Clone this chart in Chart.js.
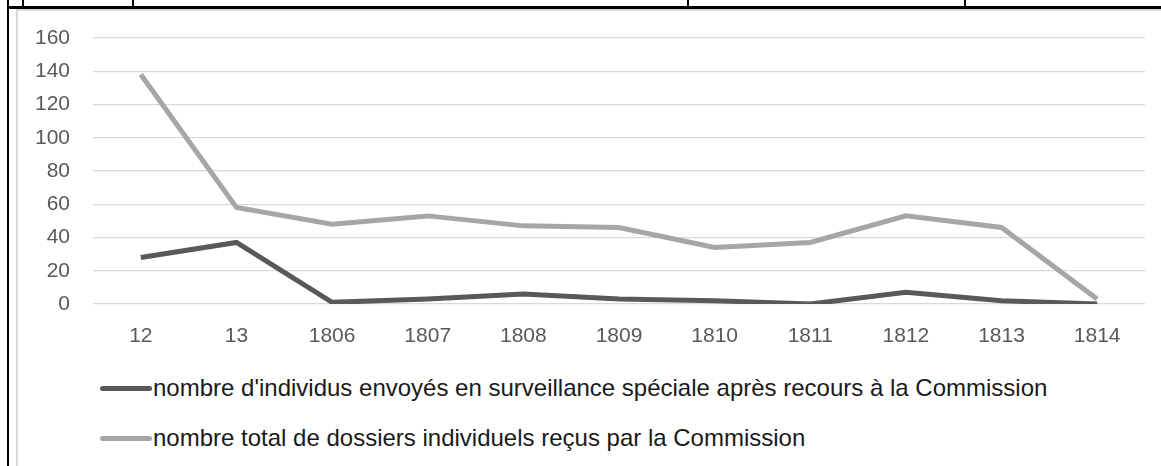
<!DOCTYPE html>
<html>
<head>
<meta charset="utf-8">
<script src="https://cdn.jsdelivr.net/npm/chart.js@4"></script>
<style>
  body { margin: 0; background: #fff; width: 1161px; height: 466px; overflow: hidden; position: relative; font-family: "Liberation Sans", Arial, sans-serif; }
  .rule { position: absolute; background: #000; }
  .frame { position: absolute; background: #d9d9d9; }
  #wrap { position: absolute; left: 0; top: 0; width: 1161px; height: 360px; }
  #legend { position: absolute; left: 100px; top: 372px; }
  .item { display: flex; align-items: center; height: 32px; margin-bottom: 18px; font-size: 24px; color: #1a1a1a; white-space: nowrap; }
  .swatch { width: 52px; height: 5px; border-radius: 3px; margin-right: 1px; }
</style>
</head>
<body>
<!-- table borders around the chart -->
<div class="rule" style="left:7px;top:0;width:2px;height:466px"></div>
<div class="rule" style="left:7px;top:6px;width:1154px;height:2.5px"></div>
<div class="rule" style="left:22px;top:0;width:1.5px;height:7px"></div>
<div class="rule" style="left:132px;top:0;width:1.5px;height:7px"></div>
<div class="rule" style="left:687px;top:0;width:1.5px;height:7px"></div>
<div class="rule" style="left:964px;top:0;width:1.5px;height:7px"></div>
<!-- chart frame -->
<div class="frame" style="left:16px;top:9px;width:1.5px;height:457px"></div>
<div class="frame" style="left:16px;top:9px;width:1145px;height:1.5px"></div>

<div id="wrap"><canvas id="chart"></canvas></div>
<div id="legend"></div>

<script>
// categories and values
const years = ['12', '13', '1806', '1807', '1808', '1809', '1810', '1811', '1812', '1813', '1814'];
const surveillance = [28, 37, 1, 3, 6, 3, 2, 0, 7, 2, 0];
const dossiers = [138, 58, 48, 53, 47, 46, 34, 37, 53, 46, 3];
const yTicks = [0, 20, 40, 60, 80, 100, 120, 140, 160];

const labelSurv = "nombre d'individus envoyés en surveillance spéciale après recours à la Commission";
const labelDoss = "nombre total de dossiers individuels reçus par la Commission";

const ctx = document.getElementById('chart');
const myChart = new Chart(ctx, {
  type: 'line',
  data: {
    labels: years,
    datasets: [
      {
        label: labelSurv,
        data: surveillance,
        borderColor: '#595959',
        backgroundColor: '#595959',
        borderWidth: 5,
        pointRadius: 0,
        tension: 0
      },
      {
        label: labelDoss,
        data: dossiers,
        borderColor: '#a6a6a6',
        backgroundColor: '#a6a6a6',
        borderWidth: 5,
        pointRadius: 0,
        tension: 0
      }
    ]
  },
  options: {
    responsive: true,
    maintainAspectRatio: false,
    animation: false,
    layout: { padding: { left: 0, right: 16, top: 38, bottom: 0 } },
    plugins: {
      legend: { display: false },
      tooltip: { enabled: false }
    },
    scales: {
      x: {
        offset: true,
        grid: { display: false, drawTicks: false },
        border: { display: false },
        ticks: {
          color: '#595959',
          padding: 20,
          maxRotation: 0,
          font: { family: 'Liberation Sans', size: 21 }
        },
        afterFit: (scale) => { scale.height = 56; }
      },
      y: {
        min: 0,
        max: 160,
        afterBuildTicks: (scale) => { scale.ticks = yTicks.map(v => ({ value: v })); },
        grid: { color: '#d9d9d9', lineWidth: 1.3, drawTicks: false },
        border: { display: false },
        ticks: {
          color: '#595959',
          padding: 23,
          font: { family: 'Liberation Sans', size: 21 }
        },
        afterFit: (scale) => { scale.width = 93; }
      }
    }
  }
});

// legend built from the chart datasets
const legend = document.getElementById('legend');
myChart.data.datasets.forEach(ds => {
  const item = document.createElement('div');
  item.className = 'item';
  const sw = document.createElement('span');
  sw.className = 'swatch';
  sw.style.background = ds.borderColor;
  const txt = document.createElement('span');
  txt.textContent = ds.label;
  item.appendChild(sw);
  item.appendChild(txt);
  legend.appendChild(item);
});
</script>
</body>
</html>
